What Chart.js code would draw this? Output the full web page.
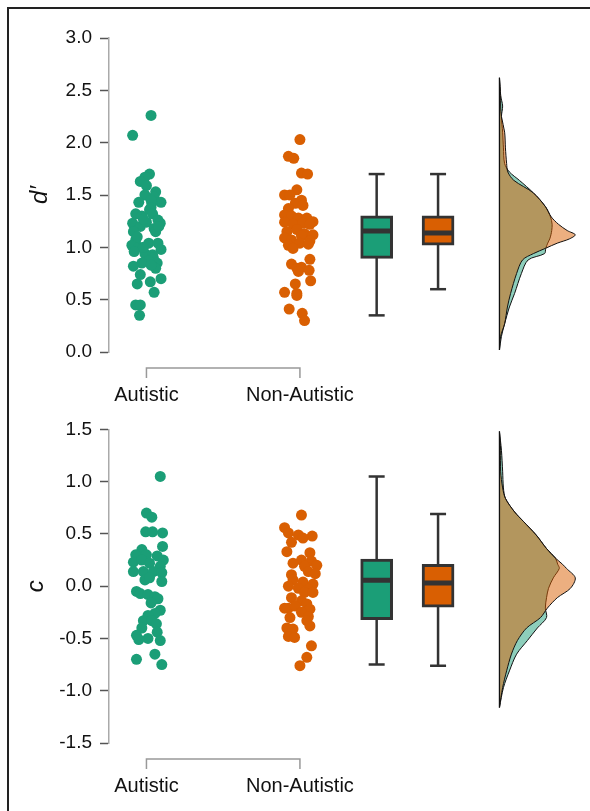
<!DOCTYPE html>
<html>
<head>
<meta charset="utf-8">
<script src="https://cdn.jsdelivr.net/npm/chart.js@4.4.1/dist/chart.umd.min.js"></script>
<style>
  html, body { margin: 0; padding: 0; background: #fff; }
  body { width: 590px; height: 811px; position: relative; overflow: hidden; }
  .frame { position: absolute; left: 7px; top: 7px; right: 0; bottom: 0;
           border-left: 2px solid #222; border-top: 2px solid #222; }
  canvas { position: absolute; left: 0; }
  #dprimeChart { top: 0; }
  #criterionChart { top: 410px; }
</style>
</head>
<body>
<div class="frame"></div>
<canvas id="dprimeChart" width="590" height="410"></canvas>
<canvas id="criterionChart" width="590" height="401"></canvas>
<script>
// groups shown on the x axis
const groups = ['Autistic', 'Non-Autistic'];
const groupColors = ['#1b9e77', '#d95f02'];
const densityColors = ['rgba(27,158,119,0.5)', 'rgba(217,95,2,0.5)'];

// d' per participant: horizontal jitter (in group units) and value
const dAutJitter = [0.03, -0.09, 0.02, -0.01, -0.04, 0.00, 0.06, -0.01, 0.05, 0.095, -0.05, 0.035, 0.03, 0.03, 0.02,
  -0.07, -0.03, 0.04, 0.075, -0.09, -0.04, 0.00, 0.09, 0.05, -0.085, 0.06, -0.07, 0.015, 0.075, -0.095, -0.05, 0.095,
  -0.08, -0.01, 0.04, 0.045, 0.015, -0.03, 0.07, -0.085, 0.06, -0.04, 0.095, -0.06, 0.025, 0.05, -0.07, -0.04, -0.045,
  -0.02, -0.06, 0.08, -0.02, 0.03];
const dAutValues = [2.26, 2.07, 1.70, 1.67, 1.63, 1.59, 1.53, 1.50, 1.48, 1.43, 1.43, 1.42, 1.45, 1.38, 1.36,
  1.32, 1.30, 1.32, 1.26, 1.23, 1.20, 1.24, 1.23, 1.18, 1.15, 1.15, 1.07, 1.04, 1.04, 1.02, 1.00, 0.98,
  0.96, 0.94, 0.93, 0.90, 0.87, 0.85, 0.85, 0.82, 0.80, 0.74, 0.70, 0.65, 0.67, 0.57, 0.45, 0.45, 0.35,
  1.27, 1.10, 1.20, 1.00, 0.83];
const dNonJitter = [0.00, -0.075, -0.04, 0.01, 0.05, -0.02, -0.10, -0.065, 0.01, -0.03, 0.02, -0.075, -0.10, -0.055,
  -0.01, 0.045, 0.085, -0.10, -0.045, 0.02, 0.065, -0.085, -0.02, 0.03, 0.085, -0.10, -0.055, 0.01, 0.065, -0.075,
  0.00, 0.055, -0.045, 0.065, -0.055, -0.02, 0.01, -0.01, 0.06, 0.07, -0.03, -0.02, -0.10, -0.07, 0.015, 0.03, -0.02];
const dNonValues = [2.03, 1.87, 1.85, 1.71, 1.70, 1.55, 1.50, 1.50, 1.45, 1.42, 1.40, 1.37, 1.31, 1.30,
  1.28, 1.28, 1.245, 1.24, 1.22, 1.23, 1.22, 1.15, 1.17, 1.13, 1.12, 1.09, 1.07, 1.11, 1.06, 1.02,
  1.04, 1.03, 0.99, 0.885, 0.84, 0.80, 0.81, 0.77, 0.78, 0.68, 0.65, 0.56, 0.57, 0.41, 0.37, 0.30, 0.54];

// c per participant
const cAutJitter = [0.09, 0.00, 0.035, -0.005, 0.04, 0.105, 0.105, -0.03, -0.07, 0.00, 0.07, 0.11, -0.085, -0.03,
  0.02, 0.09, -0.085, -0.02, 0.045, 0.10, -0.01, 0.02, 0.10, -0.065, -0.04, 0.01, 0.055, 0.075, 0.03, 0.09,
  0.055, 0.01, -0.02, 0.035, 0.065, -0.03, -0.065, 0.01, 0.07, -0.05, 0.09, 0.055, -0.065, 0.10];
const cAutValues = [1.05, 0.70, 0.66, 0.52, 0.52, 0.51, 0.38, 0.35, 0.30, 0.30, 0.29, 0.25, 0.23, 0.25,
  0.22, 0.19, 0.14, 0.14, 0.14, 0.13, 0.06, 0.08, 0.045, -0.05, -0.07, -0.08, -0.10, -0.12, -0.16, -0.23,
  -0.26, -0.28, -0.33, -0.33, -0.36, -0.40, -0.47, -0.50, -0.44, -0.51, -0.52, -0.65, -0.70, -0.75];
const cNonJitter = [0.01, -0.10, -0.075, -0.01, 0.08, 0.02, -0.055, -0.085, 0.065, 0.01, 0.075, -0.045, 0.11, 0.03,
  0.055, 0.10, -0.055, -0.045, 0.02, 0.085, -0.075, -0.01, 0.055, 0.03, 0.085, -0.055, 0.01, -0.075, -0.03,
  0.045, 0.065, -0.10, 0.01, 0.055, -0.065, 0.045, 0.065, -0.085, -0.045, -0.075, -0.035, 0.075, 0.045, 0.00];
const cNonValues = [0.68, 0.56, 0.51, 0.49, 0.48, 0.46, 0.42, 0.33, 0.32, 0.25, 0.24, 0.22, 0.20, 0.19,
  0.14, 0.12, 0.11, 0.06, 0.04, 0.02, 0.00, -0.02, -0.03, -0.06, -0.06, -0.11, -0.14, -0.21, -0.19,
  -0.17, -0.22, -0.21, -0.25, -0.29, -0.30, -0.33, -0.38, -0.40, -0.41, -0.48, -0.49, -0.57, -0.68, -0.76];

// box plot summaries: [lower whisker, Q1, median, Q3, upper whisker]
const dBoxAut = [0.35, 0.895, 1.156, 1.30, 1.70];
const dBoxNon = [0.60, 1.02, 1.137, 1.30, 1.70];
const cBoxAut = [-0.75, -0.32, 0.057, 0.26, 1.05];
const cBoxNon = [-0.76, -0.20, 0.03, 0.21, 0.69];

// density curves
const dDensLevels = [2.62, 2.45, 2.35, 2.25, 2.10, 1.95, 1.80, 1.72, 1.64, 1.52, 1.39, 1.29, 1.22, 1.16, 1.12,
  1.08, 1.04, 0.99, 0.94, 0.88, 0.75, 0.56, 0.43, 0.27, 0.15, 0.02];
const dDensAut = [0, 0.03, 0.08, 0.05, 0.08, 0.10, 0.13, 0.25, 0.50, 0.85, 1.15, 1.28, 1.32, 1.31, 1.29,
  1.26, 1.21, 1.16, 1.13, 0.72, 0.55, 0.38, 0.25, 0.13, 0.05, 0];
const dDensNon = [0, 0.03, 0.03, 0.05, 0.13, 0.15, 0.18, 0.21, 0.36, 0.85, 1.15, 1.30, 1.48, 1.70, 1.90,
  1.75, 1.45, 1.15, 0.85, 0.58, 0.43, 0.28, 0.20, 0.13, 0.03, 0];
const cDensLevels = [1.48, 1.30, 1.10, 0.94, 0.84, 0.71, 0.62, 0.49, 0.36, 0.27, 0.21, 0.17, 0.08, -0.02,
  -0.11, -0.21, -0.30, -0.40, -0.52, -0.65, -0.81, -0.97, -1.16];
const cDensAut = [0, 0.05, 0.08, 0.10, 0.15, 0.38, 0.60, 0.92, 1.18, 1.40, 1.46, 1.50, 1.35, 1.23,
  1.18, 1.15, 1.18, 0.95, 0.70, 0.43, 0.25, 0.10, 0];
const cDensNon = [0, 0.03, 0.03, 0.08, 0.15, 0.38, 0.60, 0.92, 1.18, 1.40, 1.58, 1.68, 1.90, 1.78,
  1.45, 1.20, 1.03, 0.68, 0.45, 0.30, 0.18, 0.08, 0];

// horizontal layout in x-axis units
const BOX_X = [2.5, 2.9];
const DENS_BASE = 3.3;
const DENS_SCALE = 0.26;
const FONT = '"Liberation Sans", Arial, Helvetica, sans-serif';

// bracket under the two groups, like R's base axis
const bracketPlugin = {
  id: 'bracket',
  afterDraw(chart) {
    const { ctx, chartArea, scales } = chart;
    const y = chartArea.bottom + 16;
    const x1 = scales.x.getPixelForValue(1);
    const x2 = scales.x.getPixelForValue(2);
    ctx.save();
    ctx.strokeStyle = '#999';
    ctx.lineWidth = 1.5;
    ctx.beginPath();
    ctx.moveTo(x1, y + 10);
    ctx.lineTo(x1, y);
    ctx.lineTo(x2, y);
    ctx.lineTo(x2, y + 10);
    ctx.stroke();
    ctx.restore();
  }
};

function jittered(center, jitter, values) {
  return values.map((v, i) => ({ x: center + jitter[i], y: v }));
}

function densityLine(levels, dens) {
  return levels.map((lv, i) => ({ x: DENS_BASE + dens[i] * DENS_SCALE, y: lv }));
}

function makePanel(canvasId, p) {
  const datasets = [
    {
      data: densityLine(p.levels, p.densAut), showLine: true, fill: 'shape', tension: 0.3,
      backgroundColor: densityColors[0], borderColor: '#111', borderWidth: 1, pointRadius: 0, order: 10
    },
    {
      data: densityLine(p.levels, p.densNon), showLine: true, fill: 'shape', tension: 0.3,
      backgroundColor: densityColors[1], borderColor: '#111', borderWidth: 1, pointRadius: 0, order: 9
    },
    {
      data: [{ x: DENS_BASE, y: p.levels[0] }, { x: DENS_BASE, y: p.levels[p.levels.length - 1] }],
      showLine: true, borderColor: '#111', borderWidth: 1.3, pointRadius: 0, order: 8
    },
    // whiskers
    {
      data: [{ x: BOX_X[0], y: p.boxAut[0] }, { x: BOX_X[0], y: p.boxAut[4] }],
      showLine: true, borderColor: '#333', borderWidth: 2.5, pointRadius: 0, order: 7
    },
    {
      data: [{ x: BOX_X[1], y: p.boxNon[0] }, { x: BOX_X[1], y: p.boxNon[4] }],
      showLine: true, borderColor: '#333', borderWidth: 2.5, pointRadius: 0, order: 7
    },
    // boxes
    {
      type: 'bar',
      data: [{ x: BOX_X[0], y: [p.boxAut[1], p.boxAut[3]] }, { x: BOX_X[1], y: [p.boxNon[1], p.boxNon[3]] }],
      backgroundColor: groupColors, borderColor: '#333', borderWidth: 3, borderSkipped: false,
      barThickness: 32, grouped: false, order: 6
    },
    // whisker caps
    {
      data: [{ x: BOX_X[0], y: p.boxAut[0] }, { x: BOX_X[0], y: p.boxAut[4] },
             { x: BOX_X[1], y: p.boxNon[0] }, { x: BOX_X[1], y: p.boxNon[4] }],
      pointStyle: 'line', pointRadius: 8, borderWidth: 2.5, borderColor: '#333', order: 5
    },
    // medians
    {
      data: [{ x: BOX_X[0], y: p.boxAut[2] }, { x: BOX_X[1], y: p.boxNon[2] }],
      pointStyle: 'line', pointRadius: 14, borderWidth: 5, borderColor: '#333', order: 5
    },
    {
      data: jittered(1, p.autJitter, p.autValues),
      pointRadius: 5.5, backgroundColor: groupColors[0], borderWidth: 0, order: 3
    },
    {
      data: jittered(2, p.nonJitter, p.nonValues),
      pointRadius: 5.5, backgroundColor: groupColors[1], borderWidth: 0, order: 2
    }
  ];

  return new Chart(document.getElementById(canvasId), {
    type: 'scatter',
    data: { datasets: datasets },
    options: {
      responsive: false,
      animation: false,
      events: [],
      layout: { autoPadding: false, padding: { top: p.padTop, bottom: p.padBottom, left: 0, right: 0 } },
      plugins: { legend: { display: false }, tooltip: { enabled: false } },
      scales: {
        x: {
          type: 'linear', min: 0.756, max: 3.89, offset: false,
          afterBuildTicks: s => { s.ticks = groups.map((g, i) => ({ value: i + 1 })); },
          afterFit: s => { s.height = 58; },
          ticks: {
            callback: (v, i) => groups[i], autoSkip: false, maxRotation: 0,
            font: { family: FONT, size: 20 }, color: '#111', padding: 31
          },
          grid: { display: false, drawTicks: false },
          border: { display: false }
        },
        y: {
          min: p.yMin, max: p.yMax,
          afterFit: s => { s.width = 109; },
          ticks: {
            stepSize: 0.5, callback: v => v.toFixed(1),
            font: { family: FONT, size: 19 }, color: '#111', padding: 8
          },
          grid: { drawOnChartArea: false, drawTicks: true, tickLength: 9, tickColor: '#555', tickWidth: 1.5 },
          border: { color: '#aaa', width: 1.5 },
          title: {
            display: true, text: p.title, color: '#111',
            font: { family: FONT, size: 24, style: 'italic' }, padding: { top: p.titlePad, bottom: 0 }
          }
        }
      }
    },
    plugins: [bracketPlugin]
  });
}

makePanel('dprimeChart', {
  yMin: 0, yMax: 3, title: 'd\u2032', titlePad: 26, padTop: 38, padBottom: 0,
  autJitter: dAutJitter, autValues: dAutValues, nonJitter: dNonJitter, nonValues: dNonValues,
  boxAut: dBoxAut, boxNon: dBoxNon, levels: dDensLevels, densAut: dDensAut, densNon: dDensNon
});

makePanel('criterionChart', {
  yMin: -1.5, yMax: 1.5, title: 'c', titlePad: 22, padTop: 18, padBottom: 10,
  autJitter: cAutJitter, autValues: cAutValues, nonJitter: cNonJitter, nonValues: cNonValues,
  boxAut: cBoxAut, boxNon: cBoxNon, levels: cDensLevels, densAut: cDensAut, densNon: cDensNon
});
</script>
</body>
</html>
